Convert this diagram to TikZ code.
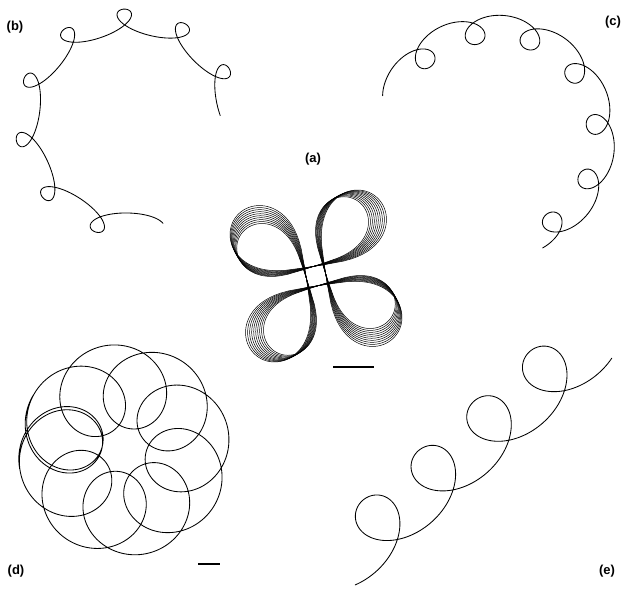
\documentclass[tikz,border=0pt]{standalone}
\usepackage{fontspec}
\setmainfont{Liberation Sans}
\begin{document}
\begin{tikzpicture}[x=1pt,y=-1pt,
  traj/.style={line width=0.85pt, line join=round, line cap=round},
  band/.style={line width=0.5pt, line join=round},
  lbl/.style={font=\fontsize{13}{15}\selectfont\bfseries, inner sep=0pt},
  scalebar/.style={line width=1.6pt}]
\useasboundingbox (0,0) rectangle (628,596);

% labels
\node[lbl] (lb) at (15,27) {(b)};
\node[lbl] (lc) at (613,22) {(c)};
\node[lbl] (la) at (313,159) {(a)};
\node[lbl] (ld) at (16,571) {(d)};
\node[lbl] (le) at (607,571) {(e)};

% (b) path with loops on the outer side
\draw[traj] plot[domain=82:350, samples=1000, variable=\s]
 ({129+(102+12*cos(11.215*(\s-107)))*cos(\s)+20*sin(11.215*(\s-107))*sin(\s)},
  {123+(102+12*cos(11.215*(\s-107)))*sin(\s)-20*sin(11.215*(\s-107))*cos(\s)});

% (c) path with loops on the inner side
\draw[traj] plot[domain=209:429, samples=1000, variable=\s]
 ({493+(108-14*cos(11.613*(\s-229)))*cos(\s)+22*sin(11.613*(\s-229))*sin(\s)},
  {137+(108-14*cos(11.613*(\s-229)))*sin(\s)-22*sin(11.613*(\s-229))*cos(\s)});

% (d) rosette of loops
\draw[traj] plot[domain=169.7:571.1, samples=1500, variable=\s]
 ({124+(64-42*cos(8.072*(\s-192)))*cos(\s)+42*sin(8.072*(\s-192))*sin(\s)},
  {450+(64-42*cos(8.072*(\s-192)))*sin(\s)-42*sin(8.072*(\s-192))*cos(\s)});

% (e) drifting loops
\draw[traj] plot[domain=-209:1283, samples=1100, variable=\s]
 ({383.2+(0.20722*\s-38*sin(\s))*0.7466-31*cos(\s)*0.6652},
  {523.6-(0.20722*\s-38*sin(\s))*0.6652-31*cos(\s)*0.7466});

% (a) four-petal rosette, many turns
\foreach \k in {0,...,9}{
  \pgfmathsetmacro\L{72+1.5*\k}
  \pgfmathsetmacro\ph{27+1.0*\k}
  \pgfmathsetmacro\phb{\ph-90}
  \pgfmathsetmacro\phc{\ph-180}
  \pgfmathsetmacro\phd{\ph-270}
  \draw[band]
   plot[domain=-45:45, samples=61, variable=\pp]
   ({316+14*cos(\ph)+\L*(abs(cos(2*\pp)))^0.5*cos(\ph+\pp)},
    {276+14*sin(\ph)+\L*(abs(cos(2*\pp)))^0.5*sin(\ph+\pp)})
   -- plot[domain=-45:45, samples=61, variable=\pp]
   ({316+14*cos(\phb)+\L*(abs(cos(2*\pp)))^0.5*cos(\phb+\pp)},
    {276+14*sin(\phb)+\L*(abs(cos(2*\pp)))^0.5*sin(\phb+\pp)})
   -- plot[domain=-45:45, samples=61, variable=\pp]
   ({316+14*cos(\phc)+\L*(abs(cos(2*\pp)))^0.5*cos(\phc+\pp)},
    {276+14*sin(\phc)+\L*(abs(cos(2*\pp)))^0.5*sin(\phc+\pp)})
   -- plot[domain=-45:45, samples=61, variable=\pp]
   ({316+14*cos(\phd)+\L*(abs(cos(2*\pp)))^0.5*cos(\phd+\pp)},
    {276+14*sin(\phd)+\L*(abs(cos(2*\pp)))^0.5*sin(\phd+\pp)})
   -- cycle;
}

% scale bars
\coordinate (sa1) at (333,367);
\coordinate (sa2) at (374,367);
\draw[scalebar] (sa1) -- (sa2);
\coordinate (sd1) at (198,564);
\coordinate (sd2) at (220,564);
\draw[scalebar] (sd1) -- (sd2);
\end{tikzpicture}
\end{document}
